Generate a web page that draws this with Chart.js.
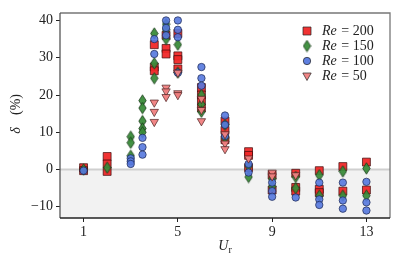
<!DOCTYPE html>
<html>
<head>
<meta charset="UTF-8">
<script src="https://cdn.jsdelivr.net/npm/chart.js"></script>
<style>
  html, body { margin: 0; padding: 0; background: #fff; }
  #wrap { width: 400px; height: 260px; }
</style>
</head>
<body>
<div id="wrap"><canvas id="c" width="400" height="260"></canvas></div>
<script>
// values (Ur, delta %)
const re200Ur    = [1, 1, 2, 2, 2, 4, 4, 4, 4.5, 4.5, 4.5, 5, 5, 5, 5, 6, 6, 6, 6, 7, 7, 7, 8, 8, 8, 9, 9, 10, 10, 10, 11, 11, 11, 12, 12, 13, 13];
const re200Delta = [0.5, -0.3, 3.5, 1.5, -0.5, 33.5, 27.5, 26.5, 36, 32.5, 31, 36.5, 30.5, 29.5, 27, 22, 20, 18.5, 16.5, 13, 10.5, 8, 4.8, 3.8, 0.5, -1.5, -5.5, -1, -4.8, -5.8, -0.3, -5.3, -6.2, 0.8, -5.8, 2, -5.5];

const re150Ur    = [1, 2, 3, 3, 3, 3.5, 3.5, 3.5, 3.5, 3.5, 4, 4, 4, 4.5, 4.5, 4.5, 5, 5, 6, 6, 6, 7, 7, 8, 8, 9, 9, 10, 10, 11, 11, 12, 12, 13, 13];
const re150Delta = [0, 0.5, 8.8, 7.2, 3.7, 18.5, 16.5, 13, 11, 10, 36.5, 28.5, 24.5, 39, 37.5, 35, 33.5, 26, 20, 17.5, 15.5, 12, 8.5, 1, -2, -2.5, -4.5, -2, -5, -1.5, -7, -0.5, -7, 0.3, -7];

const re100Ur    = [1, 3, 3, 3, 3.5, 3.5, 3.5, 4, 4, 4.5, 4.5, 4.5, 5, 5, 5, 5, 6, 6, 6, 7, 7, 7, 8, 8, 9, 9, 9, 10, 11, 11, 11, 12, 12, 12, 13, 13, 13];
const re100Delta = [-0.3, 3, 2.2, 1.5, 8.5, 6, 4, 35, 31, 40, 38, 36, 40, 37.5, 35.5, 26, 27.5, 24.5, 22.5, 14.5, 12, 9, 1.5, -0.8, -3.5, -5.8, -7.3, -7.5, -3.5, -8, -9.5, -3.5, -8.3, -10.5, -3.3, -8.8, -11];

const re50Ur     = [4, 4, 4, 4.5, 4.5, 4.5, 5, 5, 5, 6, 6, 6, 7, 7, 7, 8, 9, 9, 10];
const re50Delta  = [18, 15.5, 12.8, 22, 21, 19.5, 26, 20.5, 20, 19, 16, 13, 9.5, 7, 5.5, 3, -0.8, -1.8, -1.5];

const xTicks = [1, 5, 9, 13];
const yTicks = [-10, 0, 10, 20, 30, 40];

const serif = "'Liberation Serif', 'DejaVu Serif', serif";

function pts(xs, ys) { return xs.map((x, i) => ({ x: x, y: ys[i] })); }

// thin diamond marker (matplotlib 'd')
function thinDiamond(fill) {
  const c = document.createElement('canvas');
  c.width = 9; c.height = 13;
  const g = c.getContext('2d');
  g.beginPath();
  g.moveTo(4.5, 0.8); g.lineTo(8.2, 6.5); g.lineTo(4.5, 12.2); g.lineTo(0.8, 6.5);
  g.closePath();
  g.fillStyle = fill; g.fill();
  g.lineWidth = 0.8; g.strokeStyle = '#1a3a1a'; g.stroke();
  return c;
}
const diamondImg = thinDiamond('rgba(58,140,58,0.95)');

const shadePlugin = {
  id: 'shade',
  beforeDatasetsDraw(chart) {
    const { ctx, chartArea: a, scales: { y } } = chart;
    const y0 = y.getPixelForValue(0);
    ctx.save();
    ctx.fillStyle = '#f2f2f2';
    ctx.fillRect(a.left, y0, a.right - a.left, a.bottom - y0);
    ctx.strokeStyle = '#cfcfcf';
    ctx.lineWidth = 2;
    ctx.beginPath(); ctx.moveTo(a.left, y0); ctx.lineTo(a.right, y0); ctx.stroke();
    ctx.restore();
  },
  afterDraw(chart) {
    const { ctx, chartArea: a } = chart;
    ctx.save();
    ctx.lineWidth = 1.3;
    ctx.strokeStyle = '#777';
    ctx.beginPath();
    ctx.moveTo(a.left, a.top); ctx.lineTo(a.right, a.top); ctx.lineTo(a.right, a.bottom);
    ctx.stroke();
    ctx.strokeStyle = '#555';
    ctx.beginPath(); ctx.moveTo(a.left, a.top); ctx.lineTo(a.left, a.bottom); ctx.stroke();
    ctx.strokeStyle = '#222';
    ctx.beginPath(); ctx.moveTo(a.left, a.bottom); ctx.lineTo(a.right, a.bottom); ctx.stroke();

    // legend
    const items = [
      { style: 'rect', fill: 'rgba(240,40,40,0.95)', label: '200' },
      { style: 'diamond', label: '150' },
      { style: 'circle', fill: 'rgba(85,120,222,0.95)', label: '100' },
      { style: 'tri', fill: 'rgba(240,128,128,0.95)', label: '50' }
    ];
    const mx = a.right - 83, tx = a.right - 68;
    items.forEach((it, i) => {
      const yy = a.top + 18 + i * 15;
      ctx.fillStyle = it.fill || '#000';
      ctx.strokeStyle = '#222';
      ctx.lineWidth = 0.7;
      ctx.beginPath();
      if (it.style === 'rect') {
        ctx.rect(mx - 4, yy - 4, 8, 8); ctx.fill(); ctx.stroke();
      } else if (it.style === 'circle') {
        ctx.arc(mx, yy, 3.7, 0, Math.PI * 2); ctx.fill(); ctx.stroke();
      } else if (it.style === 'tri') {
        ctx.moveTo(mx - 4.2, yy - 3); ctx.lineTo(mx + 4.2, yy - 3); ctx.lineTo(mx, yy + 4.5);
        ctx.closePath(); ctx.fill(); ctx.stroke();
      } else {
        ctx.drawImage(diamondImg, mx - 4.5, yy - 6.5);
      }
      ctx.fillStyle = '#222';
      ctx.textBaseline = 'middle';
      ctx.font = 'italic 14px ' + serif;
      ctx.fillText('Re', tx, yy);
      const w = ctx.measureText('Re').width;
      ctx.font = '14px ' + serif;
      ctx.fillText(' = ' + it.label, tx + w + 1, yy);
    });

    // axis titles, centred on the axes
    ctx.fillStyle = '#222';
    ctx.textBaseline = 'middle';
    const cx = (a.left + a.right) / 2;
    ctx.font = 'italic 14px ' + serif;
    const uw = ctx.measureText('U').width;
    ctx.font = '10px ' + serif;
    const rw = ctx.measureText('r').width;
    const ux = cx - (uw + rw) / 2, uy = 246;
    ctx.font = 'italic 14px ' + serif;
    ctx.fillText('U', ux, uy);
    ctx.font = '10px ' + serif;
    ctx.fillText('r', ux + uw, uy + 4);

    ctx.translate(16, (a.top + a.bottom) / 2);
    ctx.rotate(-Math.PI / 2);
    ctx.textAlign = 'center';
    ctx.font = 'italic 14px ' + serif;
    ctx.fillText('δ', -15, 0);
    ctx.font = '14px ' + serif;
    ctx.fillText('(%)', 11, 0);
    ctx.restore();
  }
};

const tickFont = { family: serif, size: 14 };

new Chart(document.getElementById('c'), {
  type: 'scatter',
  data: {
    datasets: [
      {
        label: 'Re = 200', data: pts(re200Ur, re200Delta), order: 3,
        pointStyle: 'rect', pointRadius: 5.6,
        backgroundColor: 'rgba(240,40,40,0.95)', borderColor: '#3a0a0a', borderWidth: 0.7
      },
      {
        label: 'Re = 150', data: pts(re150Ur, re150Delta), order: 2,
        pointStyle: diamondImg, pointRadius: 5,
        backgroundColor: 'rgba(58,140,58,0.95)', borderColor: '#1a3a1a', borderWidth: 0.7
      },
      {
        label: 'Re = 100', data: pts(re100Ur, re100Delta), order: 1,
        pointStyle: 'circle', pointRadius: 3.7,
        backgroundColor: 'rgba(85,120,222,0.9)', borderColor: '#1a2550', borderWidth: 0.7
      },
      {
        label: 'Re = 50', data: pts(re50Ur, re50Delta), order: 0,
        pointStyle: 'triangle', pointRotation: 180, pointRadius: 4.8,
        backgroundColor: 'rgba(240,128,128,0.95)', borderColor: '#4a2020', borderWidth: 0.7
      }
    ]
  },
  options: {
    responsive: false,
    animation: false,
    events: [],
    layout: { padding: { top: 13, right: 10, left: 0, bottom: 0 } },
    plugins: { legend: { display: false }, tooltip: { enabled: false } },
    scales: {
      x: {
        type: 'linear', min: 0, max: 14,
        afterBuildTicks: s => { s.ticks = xTicks.map(v => ({ value: v })); },
        afterFit: s => { s.height = 42; },
        grid: { drawOnChartArea: false, tickLength: 4, color: '#222' },
        border: { display: false },
        ticks: { font: tickFont, color: '#222', padding: 2, maxRotation: 0 }
      },
      y: {
        min: -13, max: 42,
        afterBuildTicks: s => { s.ticks = yTicks.map(v => ({ value: v })); },
        afterFit: s => { s.width = 60; },
        grid: { drawOnChartArea: false, tickLength: 4, color: '#222' },
        border: { display: false },
        ticks: { font: tickFont, color: '#222', padding: 3,
                 callback: v => String(v).replace('-', '\u2212') }
      }
    }
  },
  plugins: [shadePlugin]
});
</script>
</body>
</html>
